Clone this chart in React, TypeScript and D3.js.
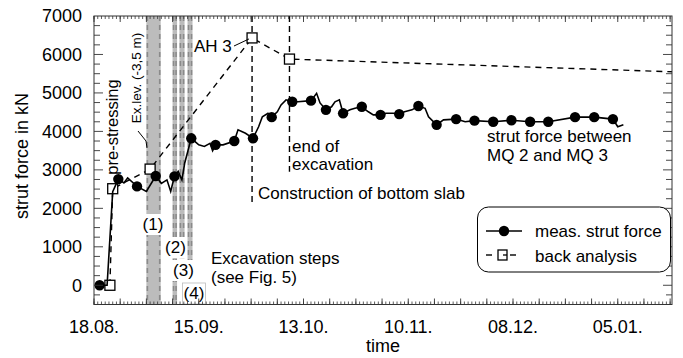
import React from 'react';
import * as d3 from 'd3';

// measured strut force (line), [date, kN]
const strutLine: [string, number][] = [
  ["2008-08-18T12:00", 0],
  ["2008-08-19T12:00", 0],
  ["2008-08-21T12:00", 0],
  ["2008-08-23T00:00", 2430],
  ["2008-08-24T12:00", 2760],
  ["2008-08-26T00:00", 2660],
  ["2008-08-27T00:00", 2790],
  ["2008-08-29T12:00", 2570],
  ["2008-09-01T00:00", 2440],
  ["2008-09-03T12:00", 2840],
  ["2008-09-05T00:00", 2650],
  ["2008-09-06T12:00", 2740],
  ["2008-09-07T12:00", 2440],
  ["2008-09-08T12:00", 2830],
  ["2008-09-09T12:00", 2960],
  ["2008-09-10T12:00", 2740],
  ["2008-09-11T06:00", 3180],
  ["2008-09-13T00:00", 3820],
  ["2008-09-15T00:00", 3650],
  ["2008-09-16T12:00", 3610],
  ["2008-09-18T00:00", 3690],
  ["2008-09-18T17:00", 3500],
  ["2008-09-19T12:00", 3650],
  ["2008-09-21T12:00", 3650],
  ["2008-09-24T12:00", 3750],
  ["2008-09-25T12:00", 4040],
  ["2008-09-27T12:00", 3950],
  ["2008-09-29T12:00", 3820],
  ["2008-10-01T00:00", 4120],
  ["2008-10-02T00:00", 4380],
  ["2008-10-03T12:00", 4470],
  ["2008-10-04T12:00", 4370],
  ["2008-10-06T00:00", 4510],
  ["2008-10-07T00:00", 4690],
  ["2008-10-08T08:00", 4820],
  ["2008-10-10T00:00", 4770],
  ["2008-10-11T12:00", 4770],
  ["2008-10-15T00:00", 4800],
  ["2008-10-16T12:00", 4990],
  ["2008-10-17T10:00", 4740],
  ["2008-10-19T00:00", 4560],
  ["2008-10-20T12:00", 4640],
  ["2008-10-21T10:00", 4770],
  ["2008-10-22T14:00", 4820],
  ["2008-10-23T14:00", 4470],
  ["2008-10-25T10:00", 4560],
  ["2008-10-26T18:00", 4600],
  ["2008-10-28T14:00", 4640],
  ["2008-10-30T08:00", 4510],
  ["2008-10-31T16:00", 4430],
  ["2008-11-02T14:00", 4430],
  ["2008-11-04T00:00", 4470],
  ["2008-11-06T00:00", 4470],
  ["2008-11-07T14:00", 4450],
  ["2008-11-09T00:00", 4510],
  ["2008-11-11T00:00", 4560],
  ["2008-11-12T17:00", 4660],
  ["2008-11-14T12:00", 4600],
  ["2008-11-15T10:00", 4380],
  ["2008-11-17T14:00", 4170],
  ["2008-11-19T10:00", 4300],
  ["2008-11-22T19:00", 4320],
  ["2008-11-25T05:00", 4250],
  ["2008-11-27T17:00", 4280],
  ["2008-12-02T17:00", 4250],
  ["2008-12-07T14:00", 4290],
  ["2008-12-12T14:00", 4250],
  ["2008-12-17T10:00", 4250],
  ["2008-12-24T14:00", 4370],
  ["2008-12-29T17:00", 4370],
  ["2009-01-03T17:00", 4320],
  ["2009-01-05T00:00", 4120],
  ["2009-01-06T12:00", 4170],
];

// which of the line points carry a dot
const dotDates = [
  "2008-08-19T12:00", "2008-08-24T12:00", "2008-08-29T12:00", "2008-09-03T12:00",
  "2008-09-08T12:00", "2008-09-13T00:00", "2008-09-19T12:00", "2008-09-24T12:00",
  "2008-09-29T12:00", "2008-10-04T12:00", "2008-10-10T00:00", "2008-10-15T00:00",
  "2008-10-19T00:00", "2008-10-23T14:00", "2008-10-28T14:00", "2008-11-02T14:00",
  "2008-11-07T14:00", "2008-11-12T17:00", "2008-11-17T14:00", "2008-11-22T19:00",
  "2008-11-27T17:00", "2008-12-02T17:00", "2008-12-07T14:00", "2008-12-12T14:00",
  "2008-12-17T10:00", "2008-12-24T14:00", "2008-12-29T17:00", "2009-01-03T17:00",
];

// back analysis, last point has no marker
const backAnalysis: [string, number][] = [
  ["2008-08-22T06:00", 0],
  ["2008-08-23T00:00", 2510],
  ["2008-09-02T00:00", 3020],
  ["2008-09-29T06:00", 6430],
  ["2008-10-09T06:00", 5880],
  ["2009-01-19T12:00", 5550],
];

// excavation steps (1)-(4): from, to, lower end in kN
const stepBands: [string, string, number][] = [
  ["2008-09-01T00:00", "2008-09-04T20:00", -500],
  ["2008-09-08T00:00", "2008-09-09T05:00", -500],
  ["2008-09-09T20:00", "2008-09-11T05:00", 700],
  ["2008-09-12T00:00", "2008-09-13T08:00", 650],
];

// vertical marker lines: date, lower end in kN
const eventLines: [string, number][] = [
  ["2008-09-29T06:00", 2100],
  ["2008-10-09T06:00", 2950],
];

const xTickDates = ["2008-08-18", "2008-09-15", "2008-10-13", "2008-11-10", "2008-12-08", "2009-01-05"];
const xTickLabels = ["18.08.", "15.09.", "13.10.", "10.11.", "08.12.", "05.01."];
const yTickValues = [0, 1000, 2000, 3000, 4000, 5000, 6000, 7000];

const t = (s: string) => new Date(s.length === 10 ? s + "T00:00" : s);

const W = 683, H = 358;
const L = 94, R = 672, T = 16, B = 304.5;
const FONT = "'Liberation Sans', Arial, Helvetica, sans-serif";

export default function App() {
  const x = d3.scaleTime().domain([t("2008-08-18"), t("2009-01-19T12:00")]).range([L, R]);
  const y = d3.scaleLinear().domain([-500, 7000]).range([B, T]);

  const line = d3.line<[string, number]>().x(d => x(t(d[0]))).y(d => y(d[1]));
  const dots = strutLine.filter(d => dotDates.includes(d[0]));

  const days = d3.timeDay.range(x.domain()[0], x.domain()[1]);
  const weeks = d3.timeMonday.range(x.domain()[0], x.domain()[1]);
  const yMinor = d3.range(-250, 7000, 250);

  const labelBoxes = [
    { text: "(1)", cx: 153, base: 230 },
    { text: "(2)", cx: 175.5, base: 253 },
    { text: "(3)", cx: 183.5, base: 276 },
    { text: "(4)", cx: 194, base: 299 },
  ];

  return (
    <svg width={W} height={H} style={{ position: 'absolute', left: 0, top: 0 }} fontFamily={FONT}>
      <rect width={W} height={H} fill="white" />

      {/* excavation steps */}
      {stepBands.map(([a, b, lo], i) => {
        const x0 = x(t(a)), x1 = x(t(b));
        return (
          <g key={i}>
            <rect x={x0} y={T} width={x1 - x0} height={y(lo) - T} fill="#bcbcbc" />
            <line x1={x0 + 1} x2={x0 + 1} y1={T} y2={y(lo)} stroke="#8a8a8a" strokeWidth={1.6} strokeDasharray="5,4" />
            <line x1={x1 - 1} x2={x1 - 1} y1={T} y2={y(lo)} stroke="#8a8a8a" strokeWidth={1.6} strokeDasharray="5,4" />
          </g>
        );
      })}
      {labelBoxes.map((d, i) => (
        <g key={i}>
          <rect x={d.cx - 11.5} y={d.base - 16} width={23} height={21} fill="white"
            stroke={i === 3 ? "#bbb" : "none"} strokeWidth={0.8} />
          <text x={d.cx} y={d.base} fontSize={17} textAnchor="middle">{d.text}</text>
        </g>
      ))}

      {/* construction / end of excavation */}
      {eventLines.map(([d, lo], i) => (
        <line key={i} x1={x(t(d))} x2={x(t(d))} y1={T} y2={y(lo)} stroke="black" strokeWidth={1.4} strokeDasharray="6,4" />
      ))}

      {/* back analysis */}
      <path d={line(backAnalysis) || ""} fill="none" stroke="black" strokeWidth={1.4} strokeDasharray="6,5" />
      {backAnalysis.slice(0, -1).map((d, i) => (
        <rect key={i} x={x(t(d[0])) - 5} y={y(d[1]) - 5} width={10} height={10} fill="white" stroke="black" strokeWidth={1.3} />
      ))}

      {/* measured */}
      <path d={line(strutLine) || ""} fill="none" stroke="black" strokeWidth={1.6} />
      {dots.map((d, i) => (
        <circle key={i} cx={x(t(d[0]))} cy={y(d[1])} r={5.2} fill="black" />
      ))}

      {/* frame and ticks */}
      <rect x={L} y={T} width={R - L} height={B - T} fill="none" stroke="#333" strokeWidth={1} />
      {days.map((d, i) => (
        <g key={i} stroke="#333" strokeWidth={0.8}>
          <line x1={x(d)} x2={x(d)} y1={B} y2={B - 3} />
          <line x1={x(d)} x2={x(d)} y1={T} y2={T + 3} />
        </g>
      ))}
      {weeks.map((d, i) => (
        <g key={i} stroke="#333" strokeWidth={0.9}>
          <line x1={x(d)} x2={x(d)} y1={B} y2={B - 6} />
          <line x1={x(d)} x2={x(d)} y1={T} y2={T + 6} />
        </g>
      ))}
      {yMinor.map((v, i) => {
        const len = v % 1000 === 0 ? 9 : 6;
        return (
          <g key={i} stroke="#333" strokeWidth={0.9}>
            <line x1={L} x2={L + len} y1={y(v)} y2={y(v)} />
            <line x1={R} x2={R - len} y1={y(v)} y2={y(v)} />
          </g>
        );
      })}
      {yTickValues.map(v => (
        <text key={v} x={82} y={y(v)} dy="0.36em" fontSize={18} textAnchor="end">{v}</text>
      ))}
      {xTickDates.map((d, i) => (
        <text key={d} x={x(t(d))} y={333} fontSize={18} textAnchor="middle">{xTickLabels[i]}</text>
      ))}
      <text x={(L + R) / 2} y={352} fontSize={18} textAnchor="middle">time</text>
      <text transform="translate(28,156) rotate(-90)" fontSize={18} textAnchor="middle">strut force in kN</text>

      {/* annotations */}
      <text transform="translate(118,127) rotate(-90)" fontSize={16.5} textAnchor="middle">pre-stressing</text>
      <text transform="translate(141,78) rotate(-90)" fontSize={13.5} textAnchor="middle">Ex.lev. (-3,5 m)</text>
      <polyline points="138,131 146,141 147,148" fill="none" stroke="black" strokeWidth={1} />
      <text x={194} y={52} fontSize={17}>AH 3</text>
      <line x1={234} y1={46} x2={x(t(backAnalysis[3][0])) - 3} y2={y(backAnalysis[3][1]) + 1} stroke="black" strokeWidth={1} />
      <text x={292} y={152} fontSize={17}>end of</text>
      <text x={292} y={170} fontSize={17}>excavation</text>
      <text x={258} y={199} fontSize={17}>Construction of bottom slab</text>
      <text x={487} y={142} fontSize={17}>strut force between</text>
      <text x={487} y={161} fontSize={17}>MQ 2 and MQ 3</text>
      <text x={211} y={264} fontSize={17}>Excavation steps</text>
      <text x={211} y={283} fontSize={17}>(see Fig. 5)</text>

      {/* legend */}
      <rect x={477.5} y={207} width={193} height={65} rx={11} fill="white" stroke="black" strokeWidth={1} />
      <line x1={486} x2={522} y1={231} y2={231} stroke="black" strokeWidth={1.6} />
      <circle cx={504} cy={231} r={5.2} fill="black" />
      <text x={535} y={237} fontSize={17}>meas. strut force</text>
      <line x1={486} x2={492} y1={255} y2={255} stroke="black" strokeWidth={1.4} />
      <line x1={510} x2={516} y1={255} y2={255} stroke="black" strokeWidth={1.4} />
      <rect x={498} y={250} width={9} height={10} fill="white" stroke="black" strokeWidth={1.3} />
      <line x1={503} x2={507} y1={255} y2={255} stroke="black" strokeWidth={1.3} />
      <text x={535} y={262} fontSize={17}>back analysis</text>
    </svg>
  );
}
